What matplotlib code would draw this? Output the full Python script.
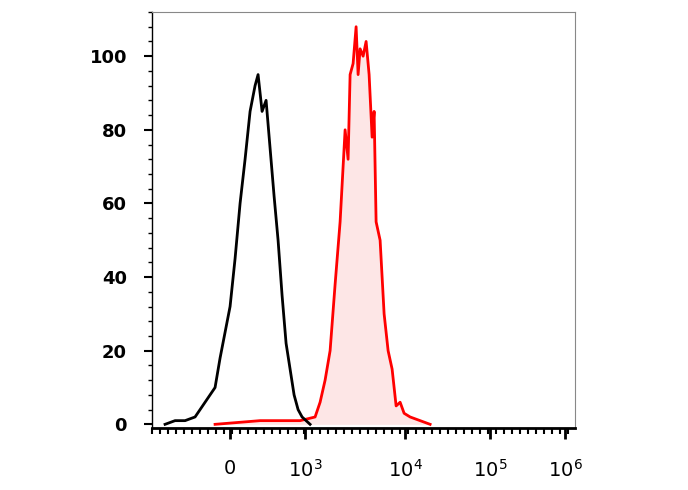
import matplotlib
matplotlib.use("Agg")
import matplotlib.pyplot as plt
import numpy as np
from matplotlib.ticker import MultipleLocator

# x in display channel units (biexponential-like scale)
black_x = [165,175,185,195,200,205,210,215,220,225,230,235,240,245,250,255,258,262,266,270,274,278,282,286,290,294,298,302,306,310]
black_y = [0,1,1,2,4,6,8,10,18,25,32,45,60,72,85,92,95,85,88,75,62,50,35,22,15,8,4,2,1,0]
red_x = [215,260,300,315,320,325,330,335,340,345,348,350,353,356,358,360,363,366,369,372,374,376,380,384,388,392,396,400,404,410,420,430]
red_y = [0,1,1,2,6,12,20,38,55,80,72,95,98,108,95,102,100,104,95,78,85,55,50,30,20,15,5,6,3,2,1,0]
tick_pos = [230,305,405,490,565]
tick_labels = ["0", r"$10^3$", r"$10^4$", r"$10^5$", r"$10^6$"]

fig = plt.figure(figsize=(6.88,4.9), dpi=100)
ax = fig.add_axes([0.221,0.1265,0.615,0.849])
ax.fill_between(red_x, red_y, color="#fde6e6", lw=0)
ax.plot(red_x, red_y, color="red", lw=2)
ax.plot(black_x, black_y, color="black", lw=2)
ax.set_xlim(152,575)
ax.set_ylim(-1,112)
ax.set_xticks(tick_pos)
ax.set_xticklabels(tick_labels, fontsize=14)
ax.xaxis.set_minor_locator(MultipleLocator(8))
ax.set_yticks([0,20,40,60,80,100])
ax.yaxis.set_minor_locator(MultipleLocator(4))
for l in ax.get_yticklabels():
    l.set_fontsize(13); l.set_fontweight("bold")
ax.tick_params(axis="x", which="major", length=8, width=2, pad=14, direction="out")
ax.tick_params(axis="x", which="minor", length=4, width=1.5)
ax.tick_params(axis="y", which="major", length=6, width=1.5, pad=12)
ax.tick_params(axis="y", which="minor", length=3, width=1)
ax.spines["bottom"].set_linewidth(2)
ax.spines["left"].set_linewidth(1)
for s in ["top","right"]:
    ax.spines[s].set_color("#888888"); ax.spines[s].set_linewidth(0.8)
fig.savefig("out.png", dpi=100)
